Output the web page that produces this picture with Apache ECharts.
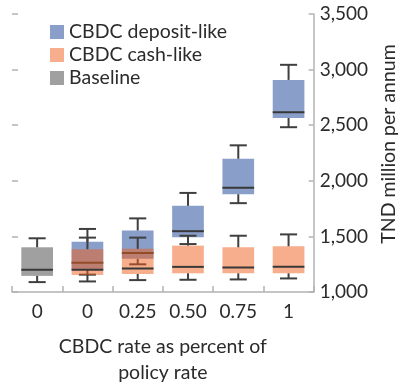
<!DOCTYPE html>
<html>
<head>
<meta charset="utf-8">
<script src="https://cdn.jsdelivr.net/npm/echarts@6/dist/echarts.min.js"></script>
<style>
  html, body { margin: 0; padding: 0; background: #fff; }
  #chart { width: 407px; height: 391px; }
</style>
</head>
<body>
<div id="chart"></div>
<script>
// Category labels along the bottom (first slot is the baseline scenario)
const categories = ['0', '0', '0.25', '0.50', '0.75', '1'];

// Box statistics per slot: [slot, min, q1, median, q3, max]  (TND million per annum)
const baseline = [
  [0, 1089, 1145, 1200, 1402, 1483]
];
const depositLike = [
  [1, 1156, 1200, 1263, 1451, 1567],
  [2, 1249, 1298, 1350, 1553, 1662],
  [3, 1431, 1492, 1547, 1775, 1891],
  [4, 1799, 1879, 1938, 2198, 2319],
  [5, 2482, 2565, 2617, 2907, 3043]
];
const cashLike = [
  [1, 1095, 1154, 1200, 1385, 1489],
  [2, 1107, 1162, 1211, 1388, 1489],
  [3, 1110, 1168, 1226, 1417, 1506],
  [4, 1113, 1168, 1220, 1402, 1506],
  [5, 1122, 1168, 1228, 1411, 1518]
];

// Value axis ticks
const yMin = 1000, yMax = 3500, yStep = 500;

const FONT = 'Lato';
const TEXT = '#2b2b2b';
const AXIS = '#b3b3b3';
const WHISKER = '#3f3f3f';

// Box + whiskers drawn through the axis scales
function renderBox(params, api) {
  const x = api.value(0);
  const lo = api.coord([x, api.value(1)]);
  const q1 = api.coord([x, api.value(2)]);
  const med = api.coord([x, api.value(3)]);
  const q3 = api.coord([x, api.value(4)]);
  const hi = api.coord([x, api.value(5)]);
  const band = api.size([1, 0])[0];
  const bw = band * 0.63;
  const cw = band * 0.34;
  const cx = med[0];
  const line = { stroke: WHISKER, lineWidth: 2 };
  return {
    type: 'group',
    children: [
      { type: 'rect', shape: { x: cx - bw / 2, y: q3[1], width: bw, height: q1[1] - q3[1] },
        style: { fill: api.visual('color') } },
      { type: 'line', shape: { x1: cx, y1: q3[1], x2: cx, y2: hi[1] }, style: line },
      { type: 'line', shape: { x1: cx - cw / 2, y1: hi[1], x2: cx + cw / 2, y2: hi[1] }, style: line },
      { type: 'line', shape: { x1: cx, y1: q1[1], x2: cx, y2: lo[1] }, style: line },
      { type: 'line', shape: { x1: cx - cw / 2, y1: lo[1], x2: cx + cw / 2, y2: lo[1] }, style: line },
      { type: 'line', shape: { x1: cx - bw / 2, y1: med[1], x2: cx + bw / 2, y2: med[1] },
        style: { stroke: '#383838', lineWidth: 2 } }
    ]
  };
}

const chart = echarts.init(document.getElementById('chart'), null, { renderer: 'canvas' });

const boxSeries = (name, data, color) => ({
  name,
  type: 'custom',
  renderItem: renderBox,
  itemStyle: { color },
  encode: { x: 0, y: [1, 2, 3, 4, 5] },
  data
});

chart.setOption({
  animation: false,
  textStyle: { fontFamily: FONT },
  grid: { left: 12, right: 91, top: 14, bottom: 89 },
  legend: {
    orient: 'vertical',
    left: 45,
    top: 17,
    itemWidth: 14,
    itemHeight: 14,
    itemGap: 3,
    icon: 'rect',
    textStyle: { fontFamily: FONT, fontSize: 19.5, color: TEXT },
    data: ['CBDC deposit-like', 'CBDC cash-like', 'Baseline']
  },
  xAxis: {
    type: 'category',
    data: categories,
    boundaryGap: true,
    name: 'CBDC rate as percent of\npolicy rate',
    nameLocation: 'middle',
    nameGap: 42,
    nameTextStyle: { fontFamily: FONT, fontSize: 19.5, color: TEXT, lineHeight: 26 },
    axisLine: { show: true, lineStyle: { color: AXIS, width: 1.5 } },
    axisTick: { show: true, inside: true, length: 6, lineStyle: { color: AXIS, width: 1.5 } },
    axisLabel: { fontFamily: FONT, fontSize: 19, color: TEXT, margin: 10 },
    splitLine: { show: false }
  },
  yAxis: [
    {
      type: 'value',
      position: 'right',
      min: yMin, max: yMax, interval: yStep,
      name: 'TND million per annum',
      nameLocation: 'middle',
      nameRotate: 90,
      nameGap: 64,
      nameTextStyle: { fontFamily: FONT, fontSize: 19.5, color: TEXT, padding: [0, 0, 0, 18] },
      axisLine: { show: true, lineStyle: { color: AXIS, width: 1.5 } },
      axisTick: { show: true, inside: true, length: 5, lineStyle: { color: AXIS, width: 1.5 } },
      axisLabel: { fontFamily: FONT, fontSize: 19, color: TEXT, margin: 6 },
      splitLine: { show: false }
    },
    {
      type: 'value',
      position: 'left',
      min: yMin, max: yMax, interval: yStep,
      axisLine: { show: false },
      axisTick: { show: true, inside: true, length: 6, lineStyle: { color: AXIS, width: 1.5 } },
      axisLabel: { show: false },
      splitLine: { show: false }
    }
  ],
  series: [
    boxSeries('Baseline', baseline, '#a0a0a0'),
    boxSeries('CBDC deposit-like', depositLike, '#899ec8'),
    boxSeries('CBDC cash-like', cashLike, 'rgba(239, 93, 25, 0.5)')
  ]
});
</script>
</body>
</html>
